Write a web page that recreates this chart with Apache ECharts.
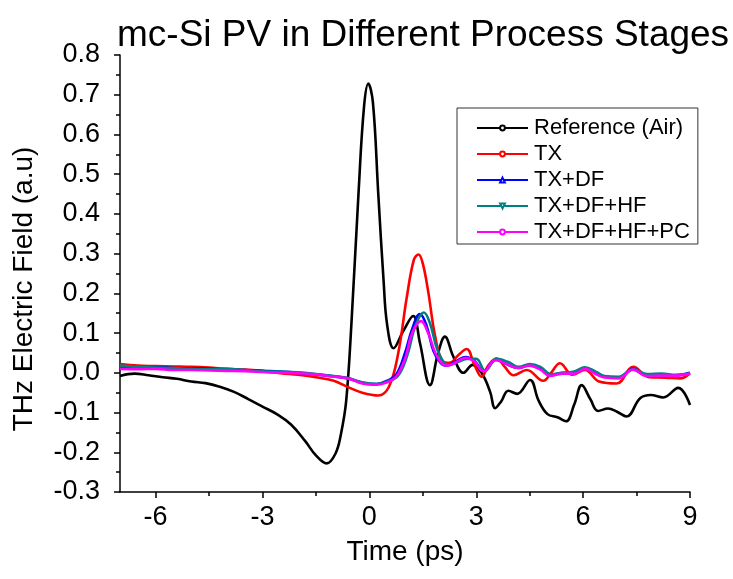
<!DOCTYPE html>
<html>
<head>
<meta charset="utf-8">
<script src="https://cdn.jsdelivr.net/npm/echarts@6/dist/echarts.min.js"></script>
<style>
html,body{margin:0;padding:0;background:#fff;}
#chart{width:733px;height:579px;}
</style>
</head>
<body>
<div id="chart"></div>
<script>
var seriesNames = ['Reference (Air)', 'TX', 'TX+DF', 'TX+DF+HF', 'TX+DF+HF+PC'];
var xMajorTicks = [-6, -3, 0, 3, 6, 9];
var xMinorTicks = [-4.5, -1.5, 1.5, 4.5, 7.5];

var refT = [-7.0,-6.6,-6.2,-5.8,-5.4,-5.0,-4.6,-4.2,-3.8,-3.4,-3.0,-2.6,-2.2,-1.8,-1.5,-1.2,-0.95,-0.8,-0.65,-0.5,-0.3,-0.15,-0.03,0.1,0.25,0.4,0.5,0.68,0.95,1.23,1.42,1.7,1.93,2.12,2.36,2.64,2.9,3.15,3.39,3.53,3.7,3.9,4.15,4.51,4.75,5.0,5.28,5.52,5.75,5.96,6.2,6.42,6.7,6.95,7.22,7.6,7.9,8.25,8.67,9.0];
var refV = [-0.008,-0.002,-0.006,-0.011,-0.015,-0.022,-0.026,-0.035,-0.048,-0.066,-0.085,-0.104,-0.130,-0.172,-0.208,-0.228,-0.203,-0.155,-0.070,0.130,0.460,0.670,0.728,0.680,0.450,0.230,0.120,0.062,0.105,0.143,0.075,-0.031,0.050,0.091,0.040,0.000,0.020,0.000,-0.048,-0.089,-0.072,-0.045,-0.053,-0.018,-0.070,-0.104,-0.112,-0.122,-0.080,-0.031,-0.066,-0.096,-0.090,-0.098,-0.110,-0.064,-0.056,-0.062,-0.038,-0.081];

var txT = [-7.0,-6.5,-6.0,-5.5,-5.0,-4.5,-4.0,-3.5,-3.0,-2.5,-2.0,-1.5,-1.0,-0.6,-0.2,0.25,0.55,0.8,1.05,1.25,1.38,1.5,1.65,1.85,2.05,2.25,2.5,2.73,2.95,3.15,3.35,3.57,3.8,4.05,4.42,4.88,5.1,5.35,5.7,6.05,6.45,6.94,7.41,7.85,8.3,8.72,9.0];
var txV = [0.022,0.018,0.017,0.016,0.015,0.013,0.010,0.008,0.005,-0.001,-0.005,-0.011,-0.020,-0.036,-0.050,-0.057,-0.035,0.045,0.190,0.285,0.298,0.275,0.205,0.090,0.030,0.025,0.045,0.060,0.020,-0.010,0.020,0.036,0.015,-0.006,0.007,-0.020,0.000,0.024,-0.005,0.007,-0.022,-0.027,0.015,-0.011,-0.012,-0.014,-0.001];

var dfT = [-7.0,-6.5,-6.0,-5.5,-5.0,-4.5,-4.0,-3.5,-3.0,-2.5,-2.0,-1.5,-1.0,-0.6,-0.2,0.2,0.5,0.75,1.0,1.2,1.42,1.6,1.8,2.0,2.17,2.45,2.7,2.95,3.2,3.57,3.85,4.18,4.5,4.8,5.07,5.44,5.75,6.05,6.35,6.6,7.0,7.4,7.78,8.2,8.6,9.0];
var dfV = [0.016,0.013,0.014,0.012,0.011,0.010,0.009,0.007,0.005,0.003,0.000,-0.004,-0.009,-0.014,-0.025,-0.028,-0.020,-0.005,0.050,0.110,0.148,0.120,0.055,0.025,0.018,0.030,0.040,0.030,0.005,0.033,0.022,0.012,0.020,0.010,-0.006,0.000,0.000,0.012,0.000,-0.010,-0.012,0.010,-0.006,-0.005,-0.006,0.000];

var hfT = [-7.0,-6.5,-6.0,-5.5,-5.0,-4.5,-4.0,-3.5,-3.0,-2.5,-2.0,-1.5,-1.0,-0.6,-0.2,0.2,0.5,0.8,1.05,1.3,1.53,1.7,1.9,2.1,2.25,2.5,2.75,3.0,3.25,3.57,3.9,4.2,4.5,4.8,5.1,5.44,5.75,6.05,6.35,6.6,7.0,7.4,7.8,8.2,8.6,9.0];
var hfV = [0.018,0.015,0.013,0.012,0.010,0.009,0.010,0.007,0.004,0.003,0.001,-0.003,-0.008,-0.013,-0.024,-0.028,-0.022,-0.008,0.040,0.120,0.152,0.125,0.060,0.025,0.020,0.028,0.035,0.035,0.005,0.035,0.027,0.015,0.022,0.015,-0.004,0.000,0.003,0.014,0.003,-0.008,-0.010,0.009,-0.003,-0.002,-0.005,-0.002];

var pcT = [-7.0,-6.5,-6.0,-5.5,-5.0,-4.5,-4.0,-3.5,-3.0,-2.5,-2.0,-1.5,-1.0,-0.6,-0.2,0.2,0.5,0.75,1.0,1.2,1.45,1.65,1.85,2.05,2.2,2.5,2.7,2.95,3.2,3.55,3.85,4.18,4.5,4.8,5.07,5.44,5.75,6.05,6.35,6.6,7.0,7.4,7.78,8.2,8.6,9.0];
var pcV = [0.010,0.009,0.010,0.007,0.007,0.006,0.005,0.004,0.002,0.000,-0.001,-0.004,-0.010,-0.014,-0.027,-0.030,-0.024,-0.010,0.035,0.100,0.130,0.100,0.050,0.022,0.018,0.030,0.038,0.028,0.004,0.032,0.022,0.012,0.018,0.008,-0.008,-0.002,-0.002,0.010,-0.003,-0.012,-0.014,0.008,-0.008,-0.007,-0.007,-0.002];

function pairs(t, v) { return t.map(function (x, i) { return [x, v[i]]; }); }

var colors = ['#000000', '#ff0000', '#0000ff', '#008080', '#ff00ff'];
var symbols = ['emptyCircle', 'emptyCircle', 'emptyTriangle', 'emptyTriangle', 'emptyCircle'];
var rotates = [0, 0, 0, 180, 0];
var datasets = [pairs(refT, refV), pairs(txT, txV), pairs(dfT, dfV), pairs(hfT, hfV), pairs(pcT, pcV)];

var FONT = "'Liberation Sans', Arial, sans-serif";

var series = seriesNames.map(function (name, i) {
  return {
    name: name,
    type: 'line',
    data: datasets[i],
    smooth: 0.4,
    symbol: symbols[i],
    symbolRotate: rotates[i],
    symbolSize: 5,
    showSymbol: false,
    color: colors[i],
    lineStyle: { color: colors[i], width: 2.6 },
    itemStyle: { color: colors[i] },
    xAxisIndex: 0,
    yAxisIndex: 0,
    z: 2 + i,
    animation: false
  };
});

var chart = echarts.init(document.getElementById('chart'), null, { renderer: 'canvas' });
chart.setOption({
  backgroundColor: '#ffffff',
  animation: false,
  title: {
    text: 'mc-Si PV in Different Process Stages',
    left: 112,
    top: 12,
    textStyle: { fontFamily: FONT, fontSize: 37, fontWeight: 'normal', color: '#000' }
  },
  grid: { left: 120, right: 43, top: 55, bottom: 87, containLabel: false },
  legend: {
    orient: 'vertical',
    left: 457,
    top: 108,
    padding: [9, 8, 1, 19],
    itemWidth: 51,
    itemHeight: 6,
    itemGap: 4,
    borderColor: '#333',
    borderWidth: 1,
    backgroundColor: '#fff',
    textStyle: { fontFamily: FONT, fontSize: 22, color: '#000', padding: [0, 0, 0, 1] },
    data: seriesNames
  },
  xAxis: [{
    type: 'value',
    min: -7,
    max: 9,
    position: 'bottom',
    name: 'Time (ps)',
    nameLocation: 'middle',
    nameGap: 46,
    nameTextStyle: { fontFamily: FONT, fontSize: 28, color: '#000' },
    axisLine: { show: true, onZero: false, lineStyle: { color: '#000', width: 1.5 } },
    axisTick: { show: true, inside: false, length: 6, customValues: xMajorTicks, lineStyle: { color: '#000', width: 1.5 } },
    axisLabel: { customValues: xMajorTicks, margin: 12, fontFamily: FONT, fontSize: 27, color: '#000' },
    splitLine: { show: false }
  }, {
    type: 'value',
    min: -7,
    max: 9,
    position: 'bottom',
    axisLine: { show: false, onZero: false },
    axisTick: { show: true, inside: false, length: 4, customValues: xMinorTicks, lineStyle: { color: '#000', width: 1.5 } },
    axisLabel: { show: false, customValues: xMinorTicks },
    splitLine: { show: false }
  }],
  yAxis: {
    type: 'value',
    min: -0.3,
    max: 0.8,
    interval: 0.1,
    axisLine: { show: true, onZero: false, lineStyle: { color: '#000', width: 1.5 } },
    axisTick: { show: true, inside: false, length: 6, lineStyle: { color: '#000', width: 1.5 } },
    minorTick: { show: true, splitNumber: 2, length: 4, lineStyle: { color: '#000', width: 1.5 } },
    axisLabel: {
      margin: 20, fontFamily: FONT, fontSize: 27, color: '#000',
      formatter: function (v) { return (Math.round(v * 10) / 10).toFixed(1); }
    },
    splitLine: { show: false }
  },
  graphic: [{
    type: 'text',
    x: 24,
    y: 289,
    rotation: Math.PI / 2,
    style: {
      text: 'THz Electric Field (a.u)',
      font: "28px 'Liberation Sans', Arial, sans-serif",
      fill: '#000',
      textAlign: 'center',
      textVerticalAlign: 'middle'
    }
  }],
  series: series
});
</script>
</body>
</html>
